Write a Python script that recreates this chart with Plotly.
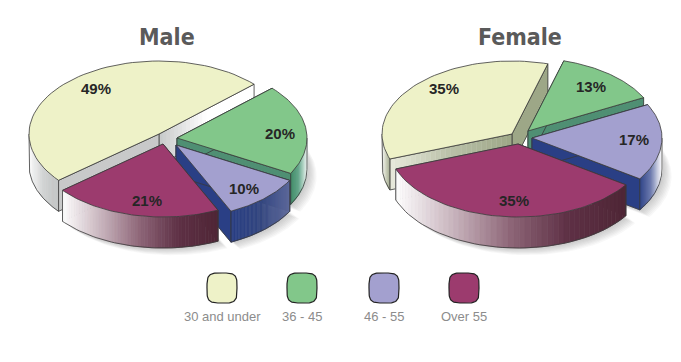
import math
import plotly.graph_objects as go

# ---- data ----
categories = ["30 and under", "36 - 45", "46 - 55", "Over 55"]
male_values = [49, 20, 10, 21]
female_values = [35, 13, 17, 35]
male_labels = ["49%", "20%", "10%", "21%"]
female_labels = ["35%", "13%", "17%", "35%"]
titles = ["Male", "Female"]

# ---- style ----
TOP = ["#eef2c8", "#82c78a", "#a3a0cf", "#9c3b6e"]
RX, RY, DEPTH = 130, 73, 31
EDGE = "#3a3a3a"
MAROON_RIM = ["#ffffff", "#c8b4bd", "#8d6577", "#5e3045", "#4f2636"]

PIES = [
    dict(title_x=167, start=43, values=male_values, labels=male_labels,
         apex=[(159, 134), (177, 138), (176, 145), (163, 144)],
         label_xy=[(96, 88), (280, 133), (244, 188), (147, 200)],
         cut_start=[["#c6c8c8", "#ffffff", "#ffffff"], ["#4f8f73"], ["#2a3f85"], ["#c8c8c8"]],
         cut_end=[["#c8c9c9"], ["#4f8f73"], ["#2a3f85"], ["#5e3045"]],
         rim=[["#ffffff", "#d0d2d2", "#c2c4c4"], ["#3f8a66", "#66a88c", "#e8f2ee"],
              ["#2a3f85", "#33467f", "#5f6a9c"], MAROON_RIM]),
    dict(title_x=520, start=74, values=female_values, labels=female_labels,
         apex=[(512, 134), (528, 131), (532, 138), (518, 144)],
         label_xy=[(444, 88), (591, 86), (634, 139), (514, 200)],
         cut_start=[["#9da787"], ["#4f8f73"], ["#2a3f85"], ["#c8c8c8"]],
         cut_end=[["#9da787", "#b9c0a8", "#e8eadc"], ["#4f8f73"], ["#2a3f85"], ["#5e3045"]],
         rim=[["#ffffff", "#d6d9c8", "#aab196"], ["#4f8f73"],
              ["#2a3f85", "#6a78ad", "#ffffff"], MAROON_RIM]),
]
# wedges run counter-clockwise on the page: first, last, third, second category
DRAW_SEQ = [0, 1, 2, 3]
ANGLE_SEQ = [0, 3, 2, 1]


def hex2rgb(h):
    return tuple(int(h[i:i + 2], 16) for i in (1, 3, 5))


def ramp(stops, t):
    t = min(max(t, 0.0), 1.0)
    if len(stops) == 1:
        return stops[0]
    p = t * (len(stops) - 1)
    i = min(int(p), len(stops) - 2)
    f = p - i
    a, b = hex2rgb(stops[i]), hex2rgb(stops[i + 1])
    return "rgb(%d,%d,%d)" % tuple(round(a[k] + (b[k] - a[k]) * f) for k in range(3))


def edge_pt(ap, deg):
    r = math.radians(deg)
    return ap[0] + RX * math.cos(r), ap[1] - RY * math.sin(r)


traces = []


def poly(xs, ys, fill, line=None, width=0.8):
    traces.append(go.Scatter(x=xs, y=ys, mode="lines", fill="toself", fillcolor=fill,
                             line=dict(color=line or fill, width=width),
                             hoverinfo="skip", showlegend=False))


def stroke(xs, ys):
    traces.append(go.Scatter(x=xs, y=ys, mode="lines", line=dict(color=EDGE, width=0.8),
                             hoverinfo="skip", showlegend=False))


def arc(ap, a0, a1, n=60):
    return [edge_pt(ap, a0 + (a1 - a0) * i / n) for i in range(n + 1)]


def cut_face(ap, deg, stops):
    ex, ey = edge_pt(ap, deg)
    n = 1 if len(stops) == 1 else 24
    for i in range(n):
        t0, t1 = i / n, (i + 1) / n
        x0, y0 = ap[0] + (ex - ap[0]) * t0, ap[1] + (ey - ap[1]) * t0
        x1, y1 = ap[0] + (ex - ap[0]) * t1, ap[1] + (ey - ap[1]) * t1
        poly([x0, x1, x1, x0, x0], [y0, y1, y1 + DEPTH, y0 + DEPTH, y0],
             ramp(stops, (t0 + t1) / 2), width=0.5)
    stroke([ap[0], ex, ex, ap[0], ap[0]], [ap[1], ey, ey + DEPTH, ap[1] + DEPTH, ap[1]])


def rim_face(ap, a0, a1, stops):
    # only the part of the rim that faces the viewer
    lo, hi = None, None
    for base in (180, 540):
        l, h = max(a0, base), min(a1, base + 180)
        if h > l:
            lo, hi = l, h
    if lo is None:
        return
    pts = arc(ap, lo, hi, 50)
    xmin, xmax = pts[0][0], pts[-1][0]
    for p, q in zip(pts[:-1], pts[1:]):
        t = ((p[0] + q[0]) / 2 - xmin) / (xmax - xmin)
        poly([p[0], q[0], q[0], p[0], p[0]], [p[1], q[1], q[1] + DEPTH, p[1] + DEPTH, p[1]],
             ramp(stops, t), width=0.6)
    stroke([pts[0][0]] + [p[0] for p in pts] + [pts[-1][0]],
           [pts[0][1]] + [p[1] + DEPTH for p in pts] + [pts[-1][1]])


def shadow(ap, a0, a1):
    pts = [ap] + arc(ap, a0, a1, 40) + [ap]
    for k in range(1, 9):
        poly([p[0] + k * 1.2 for p in pts], [p[1] + DEPTH + k * 0.9 for p in pts],
             "rgba(70,70,70,0.035)", line="rgba(0,0,0,0)", width=0)


for pie in PIES:
    # angle span for each category
    spans = {}
    a = pie["start"]
    for idx in ANGLE_SEQ:
        b = a + pie["values"][idx] * 3.6
        spans[idx] = (a, b)
        a = b
    # category index order from back to front: yellow, green, purple, maroon
    for idx in DRAW_SEQ:
        ap = pie["apex"][idx]
        a0, a1 = spans[idx]
        if idx != 0:
            shadow(ap, a0, a1)
    for idx in DRAW_SEQ:
        ap = pie["apex"][idx]
        a0, a1 = spans[idx]
        cut_face(ap, a0, pie["cut_start"][idx])
        cut_face(ap, a1, pie["cut_end"][idx])
        rim_face(ap, a0, a1, pie["rim"][idx])
        pts = [ap] + arc(ap, a0, a1) + [ap]
        poly([p[0] for p in pts], [p[1] for p in pts], TOP[idx], line=EDGE, width=0.8)

# legend swatches (rounded squares)
swatch_x = [222, 302, 384, 464]
SW_Y, SW_R, SW_P = 288, 15, 4.0
for cx, col in zip(swatch_x, TOP):
    xs, ys = [], []
    for i in range(81):
        t = 2 * math.pi * i / 80
        c, s = math.cos(t), math.sin(t)
        xs.append(cx + SW_R * math.copysign(abs(c) ** (2 / SW_P), c))
        ys.append(SW_Y + SW_R * math.copysign(abs(s) ** (2 / SW_P), s))
    poly(xs, ys, col, line="#222222", width=1.2)

annotations = []
for pie, title in zip(PIES, titles):
    annotations.append(dict(x=pie["title_x"], y=37, text="<b>%s</b>" % title, showarrow=False,
                            font=dict(family="Liberation Sans Narrow, DejaVu Sans Condensed, Liberation Sans",
                                      size=23, color="#5a5a5a")))
    for (x, y), txt in zip(pie["label_xy"], pie["labels"]):
        annotations.append(dict(x=x, y=y, text="<b>%s</b>" % txt, showarrow=False,
                                font=dict(family="Liberation Sans", size=15, color="#262626")))
for cx, cat in zip(swatch_x, categories):
    annotations.append(dict(x=cx, y=316, text=cat, showarrow=False,
                            font=dict(family="Liberation Sans", size=13, color="#8c8c8c")))

fig = go.Figure(traces)
fig.update_layout(
    width=681, height=362, margin=dict(l=0, r=0, t=0, b=0),
    paper_bgcolor="white", plot_bgcolor="white", showlegend=False,
    annotations=annotations,
    xaxis=dict(range=[0, 681], visible=False, fixedrange=True),
    yaxis=dict(range=[362, 0], visible=False, fixedrange=True),
)
fig.write_html("out.html", config={"displayModeBar": False},
               post_script="document.body.style.margin='0';document.body.style.overflow='hidden';")
